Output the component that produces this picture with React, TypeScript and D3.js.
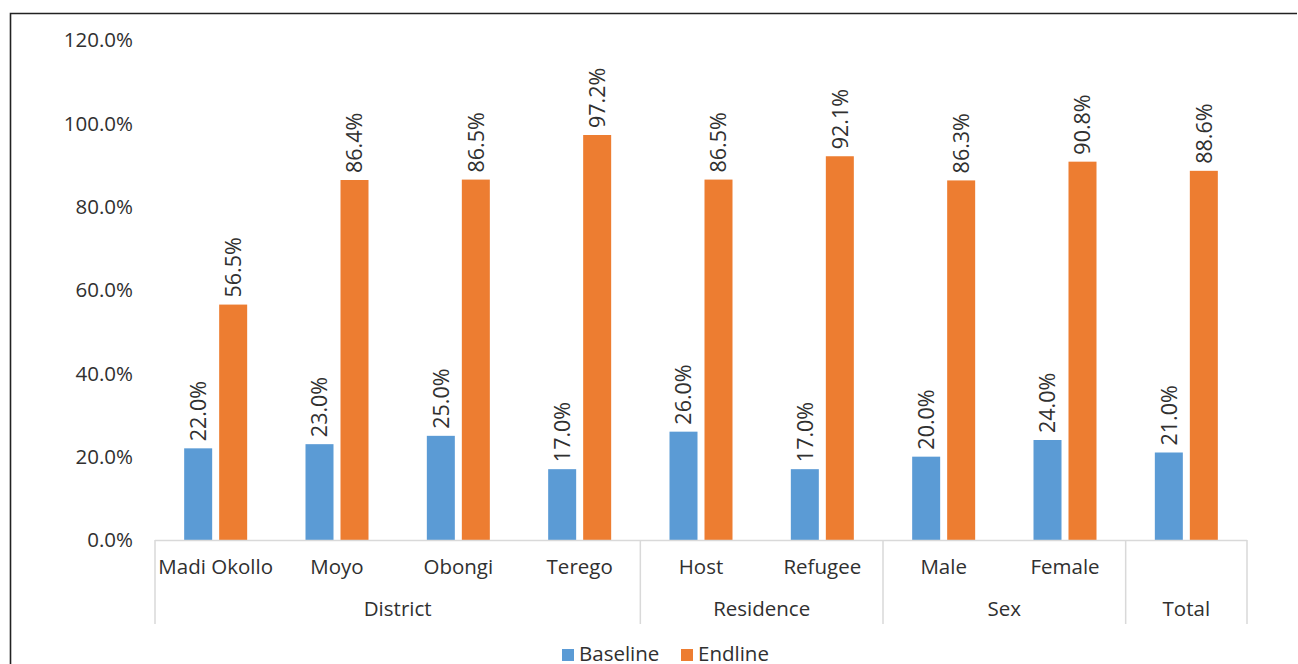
import React from "react";
import * as d3 from "d3";

const categories = ["Madi Okollo", "Moyo", "Obongi", "Terego", "Host", "Refugee", "Male", "Female", "Total"];
// the single-category "Total" group shows only its group label
const categoryLabels = ["Madi Okollo", "Moyo", "Obongi", "Terego", "Host", "Refugee", "Male", "Female", ""];
const groups = [
  { name: "District", span: 4 },
  { name: "Residence", span: 2 },
  { name: "Sex", span: 2 },
  { name: "Total", span: 1 },
];
const baseline = [22.0, 23.0, 25.0, 17.0, 26.0, 17.0, 20.0, 24.0, 21.0];
const endline = [56.5, 86.4, 86.5, 97.2, 86.5, 92.1, 86.3, 90.8, 88.6];
const yTicks = [0, 20, 40, 60, 80, 100, 120];
const seriesNames = ["Baseline", "Endline"];
const colors = ["#5B9BD5", "#ED7D31"];

const W = 1298;
const H = 664;
const plot = { left: 155, right: 1247, top: 40, bottom: 540 };
const FONT = "'Open Sans', sans-serif";
const TEXT = "#303030";
const GRID = "#d9d9d9";
const FS = 20.5;

export default function App() {
  const x = d3.scaleBand<string>().domain(categories).range([plot.left, plot.right]);
  const y = d3.scaleLinear().domain([0, 120]).range([plot.bottom, plot.top]);
  const barW = 28;
  const off = 17.5;
  const series = [baseline, endline];

  // group boundaries along the axis
  let acc = 0;
  const groupEdges = groups.map((g) => {
    const start = acc;
    acc += g.span;
    const x0 = x(categories[start])!;
    const x1 = x(categories[acc - 1])! + x.bandwidth();
    return { ...g, x0, x1 };
  });

  return (
    <svg
      width={W}
      height={H}
      style={{ position: "absolute", left: 0, top: 0, background: "#fff" }}
      fontFamily={FONT}
    >
      {/* frame */}
      <path d={`M10.5,${H} V13.5 H${W - 1}`} fill="none" stroke="#222" strokeWidth={1.6} />

      {/* y tick labels */}
      {yTicks.map((t) => (
        <text key={t} x={133} y={y(t)} dy="0.35em" textAnchor="end" fontSize={FS} fill={TEXT}>
          {t.toFixed(1)}%
        </text>
      ))}

      {/* bars and value labels */}
      {series.map((vals, si) =>
        vals.map((v, i) => {
          const cx = x(categories[i])! + x.bandwidth() / 2 + (si === 0 ? -off : off);
          const top = y(v);
          return (
            <g key={`${si}-${i}`}>
              <rect x={cx - barW / 2} y={top} width={barW} height={plot.bottom - top} fill={colors[si]} />
              <text
                transform={`translate(${cx},${top - 7}) rotate(-90)`}
                dy="0.36em"
                fontSize={21.5}
                fill={TEXT}
              >
                {v.toFixed(1)}%
              </text>
            </g>
          );
        })
      )}

      {/* category axis */}
      <line x1={plot.left} x2={plot.right} y1={plot.bottom + 0.5} y2={plot.bottom + 0.5} stroke={GRID} strokeWidth={1.5} />
      {[groupEdges[0].x0, ...groupEdges.map((g) => g.x1)].map((xe, i) => (
        <line key={i} x1={xe} x2={xe} y1={plot.bottom} y2={624} stroke={GRID} strokeWidth={1.5} />
      ))}
      {categories.map((c, i) => (
        <text
          key={c}
          x={x(c)! + x.bandwidth() / 2}
          y={567}
          dy="0.35em"
          textAnchor="middle"
          fontSize={FS}
          fill={TEXT}
        >
          {categoryLabels[i]}
        </text>
      ))}
      {groupEdges.map((g) => (
        <text key={g.name} x={(g.x0 + g.x1) / 2} y={609} dy="0.35em" textAnchor="middle" fontSize={FS} fill={TEXT}>
          {g.name}
        </text>
      ))}

      {/* legend */}
      {seriesNames.map((s, i) => {
        const lx = i === 0 ? 562 : 681;
        return (
          <g key={s}>
            <rect x={lx} y={649} width={12} height={12} fill={colors[i]} />
            <text x={lx + 17} y={654} dy="0.35em" fontSize={FS} fill={TEXT}>
              {s}
            </text>
          </g>
        );
      })}
    </svg>
  );
}
